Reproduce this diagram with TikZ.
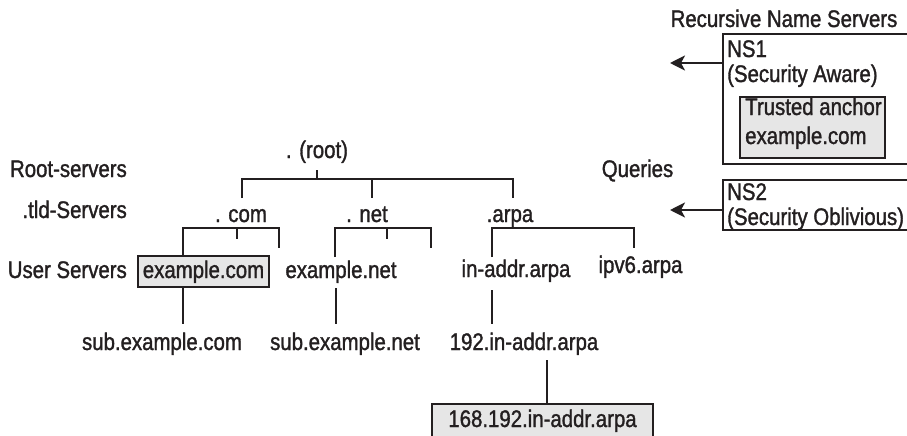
\documentclass[tikz,border=0pt]{standalone}
\usepackage{fontspec}
\setmainfont{Liberation Sans}[FakeStretch=0.85,FakeBold=1.3]
\usetikzlibrary{arrows.meta}
\definecolor{ink}{HTML}{231F20}
\definecolor{boxgray}{HTML}{E6E6E6}
\begin{document}
\begin{tikzpicture}[x=1pt,y=-1pt,
  lbl/.style={font=\fontsize{24}{28}\selectfont, inner sep=0pt, text=ink},
  ln/.style={line width=2.2pt, draw=ink},
  gbox/.style={draw=ink, line width=2pt, fill=boxgray, inner sep=0pt},
  obox/.style={inner sep=0pt},
  oline/.style={draw=ink, line width=2pt},
  arr/.style={line width=2.2pt, draw=ink, -{Stealth[length=15pt,width=15pt,inset=4pt]}}]
\useasboundingbox (0,0) rectangle (907,436);
\fill[white] (0,0) rectangle (907,436);

% ---- level labels
\node[lbl, anchor=base east] (lroot) at (127,177) {Root-servers};
\node[lbl, anchor=base east] (ltld) at (127,218) {.tld-Servers};
\node[lbl, anchor=base east] (luser) at (127,278) {User Servers};

% ---- tree texts
\node[lbl, anchor=base] (root) at (317,158) {. (root)};
\node[lbl, anchor=base] (com) at (241,222) {. com};
\node[lbl, anchor=base] (net) at (367,222) {. net};
\node[lbl, anchor=base] (arpa) at (510,222) {.arpa};
\node[gbox, minimum width=131pt, minimum height=31pt] (excom) at (203.5,271.5) {};
\node[lbl, anchor=base] (excomt) at (203.5,278) {example.com};
\node[lbl, anchor=base] (exnet) at (341,278) {example.net};
\node[lbl, anchor=base] (inaddr) at (516,277) {in-addr.arpa};
\node[lbl, anchor=base] (ipv6) at (640.5,273) {ipv6.arpa};
\node[lbl, anchor=base] (subcom) at (162,350) {sub.example.com};
\node[lbl, anchor=base] (subnet) at (345,350) {sub.example.net};
\node[lbl, anchor=base] (in192) at (524,350) {192.in-addr.arpa};
\node[gbox, minimum width=221pt, minimum height=40pt] (b168) at (542.5,424) {};
\node[lbl, anchor=base] (b168t) at (542.5,427) {168.192.in-addr.arpa};

% ---- tree connectors
\coordinate (r0) at (317,170);
\coordinate (r1) at (317,179);
\coordinate (comH) at (242,179);
\coordinate (comS) at (242,198);
\coordinate (netH) at (372,179);
\coordinate (netS) at (372,198);
\coordinate (arpaH) at (513,179);
\coordinate (arpaS) at (513,198);
\draw[ln] (r0) -- (r1);
\draw[ln] (comS) -- (comH) -- (arpaH) -- (arpaS);
\draw[ln] (netH) -- (netS);

\coordinate (c1) at (183,228);
\coordinate (c2) at (237,228);
\coordinate (c2b) at (237,239);
\coordinate (c3) at (279,228);
\coordinate (c3b) at (279,248);
\draw[ln] (excom.north -| c1) -- (c1) -- (c3) -- (c3b);
\draw[ln] (c2) -- (c2b);

\coordinate (n1) at (335,228);
\coordinate (n1b) at (335,257);
\coordinate (n2) at (387,228);
\coordinate (n2b) at (387,239);
\coordinate (n3) at (431,228);
\coordinate (n3b) at (431,248);
\draw[ln] (n1b) -- (n1) -- (n3) -- (n3b);
\draw[ln] (n2) -- (n2b);

\coordinate (a1) at (492,228);
\coordinate (a1b) at (492,257);
\coordinate (a3) at (634,228);
\coordinate (a3b) at (634,248);
\draw[ln] (a1b) -- (a1) -- (a3) -- (a3b);

\coordinate (d1) at (183,324);
\draw[ln] (excom.south -| d1) -- (d1);
\coordinate (d2a) at (336,288);
\coordinate (d2) at (336,324);
\draw[ln] (d2a) -- (d2);
\coordinate (d3a) at (492,290);
\coordinate (d3) at (492,324);
\draw[ln] (d3a) -- (d3);
\coordinate (d4) at (547,360);
\draw[ln] (d4) -- (b168.north -| d4);

% ---- recursive name servers
\node[lbl, anchor=base] (rns) at (784,27) {Recursive Name Servers};
\node[obox, minimum width=190pt, minimum height=130pt] (ns1) at (818,99) {};
\draw[oline] (ns1.north east) -- (ns1.north west) -- (ns1.south west) -- (ns1.south east);
\node[lbl, anchor=base west] (ns1a) at (727,57) {NS1};
\node[lbl, anchor=base west] (ns1b) at (727,82) {(Security Aware)};
\node[gbox, minimum width=145pt, minimum height=61pt] (ta) at (812.5,127.5) {};
\node[lbl, anchor=base west] (ta1) at (745,115) {Trusted anchor};
\node[lbl, anchor=base west] (ta2) at (745,144) {example.com};

\node[obox, minimum width=190pt, minimum height=50pt] (ns2) at (818,205) {};
\draw[oline] (ns2.north east) -- (ns2.north west) -- (ns2.south west) -- (ns2.south east);
\node[lbl, anchor=base west] (ns2a) at (727,200) {NS2};
\node[lbl, anchor=base west] (ns2b) at (727,225) {(Security Oblivious)};

\node[lbl, anchor=base] (queries) at (637.5,177) {Queries};

\coordinate (q1) at (670,63);
\coordinate (q2) at (670,210);
\draw[arr] (ns1.west |- q1) -- (q1);
\draw[arr] (ns2.west |- q2) -- (q2);
\end{tikzpicture}
\end{document}
